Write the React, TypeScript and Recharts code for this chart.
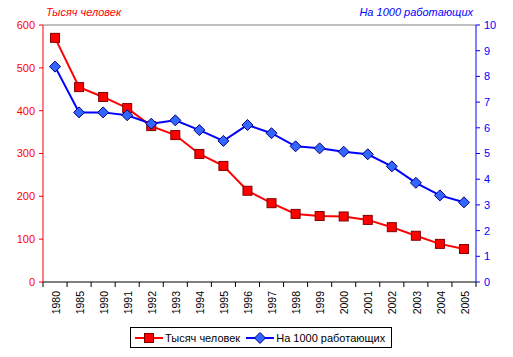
import { LineChart, Line, XAxis, YAxis, ReferenceLine } from "recharts";

const years = ["1980", "1985", "1990", "1991", "1992", "1993", "1994", "1995", "1996", "1997", "1998", "1999", "2000", "2001", "2002", "2003", "2004", "2005"];
const thousands = [570, 455, 432, 406, 364, 343, 299, 271, 213, 184, 159, 154, 153, 145, 128, 108, 89, 77];
const per1000 = [8.38, 6.6, 6.6, 6.49, 6.16, 6.29, 5.91, 5.49, 6.11, 5.79, 5.28, 5.2, 5.07, 4.97, 4.5, 3.86, 3.37, 3.1];
const leftTicks = [0, 100, 200, 300, 400, 500, 600];
const rightTicks = [0, 1, 2, 3, 4, 5, 6, 7, 8, 9, 10];

const RED_NAME = "Тысяч человек";
const BLUE_NAME = "На 1000 работающих";

const W = 513;
const H = 357;
const LEFT_W = 43;
const RIGHT_W = 37;
const CAT_W = (W - LEFT_W - RIGHT_W) / years.length;
const FONT = "'Liberation Sans', Arial, sans-serif";

const data = years.map((y, i) => ({ year: y, a: thousands[i], b: per1000[i] }));

const Square = (props: any) => {
  const { cx, cy } = props;
  if (cx == null || cy == null) return null;
  return <rect x={cx - 4.5} y={cy - 4.5} width={9} height={9} fill="#ff0000" stroke="#800000" strokeWidth={1} />;
};

const Diamond = (props: any) => {
  const { cx, cy } = props;
  if (cx == null || cy == null) return null;
  const r = 5.5;
  return (
    <polygon
      points={`${cx},${cy - r} ${cx + r},${cy} ${cx},${cy + r} ${cx - r},${cy}`}
      fill="#3366ff"
      stroke="#000080"
      strokeWidth={1}
    />
  );
};

const YearTick = (props: any) => {
  const { x, y, payload, index } = props;
  const axisY = y - 5;
  return (
    <g>
      <line x1={x - CAT_W / 2} y1={axisY} x2={x - CAT_W / 2} y2={axisY + 5} stroke="#000" />
      {index === years.length - 1 && (
        <line x1={x + CAT_W / 2} y1={axisY} x2={x + CAT_W / 2} y2={axisY + 5} stroke="#000" />
      )}
      <text
        transform={`translate(${x + 1},${axisY + 9}) rotate(-90)`}
        textAnchor="end"
        dy="0.35em"
        fontSize={10.5}
        fontFamily={FONT}
        fill="#000"
      >
        {payload.value}
      </text>
    </g>
  );
};

function LegendSample({ kind }: { kind: "sq" | "dia" }) {
  return (
    <svg width={28} height={12} style={{ verticalAlign: "middle" }}>
      <line x1={0} y1={6} x2={28} y2={6} stroke={kind === "sq" ? "#ff0000" : "#0000ff"} strokeWidth={2} />
      {kind === "sq" ? <Square cx={14} cy={6} /> : <Diamond cx={14} cy={6} />}
    </svg>
  );
}

export default function App() {
  return (
    <div style={{ position: "absolute", left: 0, top: 0, width: W, height: H, background: "#fff", fontFamily: FONT }}>
      <LineChart width={W} height={H} data={data} margin={{ top: 25, right: 0, left: 0, bottom: 30 }}>
        <XAxis
          dataKey="year"
          interval={0}
          tickLine={false}
          tickSize={5}
          tickMargin={0}
          height={45}
          stroke="#000"
          padding={{ left: CAT_W / 2, right: CAT_W / 2 }}
          tick={<YearTick />}
        />
        <YAxis
          yAxisId="left"
          domain={[0, 600]}
          ticks={leftTicks}
          width={LEFT_W}
          stroke="#ff0000"
          tickSize={4}
          tickMargin={4}
          tick={{ fill: "#ff0000", fontSize: 11, fontFamily: FONT }}
        />
        <YAxis
          yAxisId="right"
          orientation="right"
          domain={[0, 10]}
          ticks={rightTicks}
          width={RIGHT_W}
          stroke="#0000ff"
          tickSize={4}
          tickMargin={4}
          tick={{ fill: "#0000ff", fontSize: 11, fontFamily: FONT }}
        />
        <ReferenceLine yAxisId="left" y={600} stroke="#808080" strokeWidth={1} />
        <Line
          yAxisId="left"
          dataKey="a"
          name={RED_NAME}
          stroke="#ff0000"
          strokeWidth={2}
          dot={<Square />}
          isAnimationActive={false}
        />
        <Line
          yAxisId="right"
          dataKey="b"
          name={BLUE_NAME}
          stroke="#0000ff"
          strokeWidth={2}
          dot={<Diamond />}
          isAnimationActive={false}
        />
      </LineChart>
      <div style={{ position: "absolute", left: 46, top: 6, color: "#ff0000", fontStyle: "italic", fontSize: 11 }}>
        {RED_NAME}
      </div>
      <div style={{ position: "absolute", right: 40, top: 6, color: "#0000ff", fontStyle: "italic", fontSize: 11 }}>
        {BLUE_NAME}
      </div>
      <div
        style={{
          position: "absolute",
          left: 130,
          top: 327,
          width: 256,
          height: 19,
          border: "1px solid #000",
          display: "flex",
          alignItems: "center",
          fontSize: 11,
          paddingLeft: 4,
          boxSizing: "content-box",
          whiteSpace: "nowrap",
        }}
      >
        <LegendSample kind="sq" />
        <span style={{ marginLeft: 2, marginRight: 6 }}>{RED_NAME}</span>
        <LegendSample kind="dia" />
        <span style={{ marginLeft: 2 }}>{BLUE_NAME}</span>
      </div>
    </div>
  );
}
